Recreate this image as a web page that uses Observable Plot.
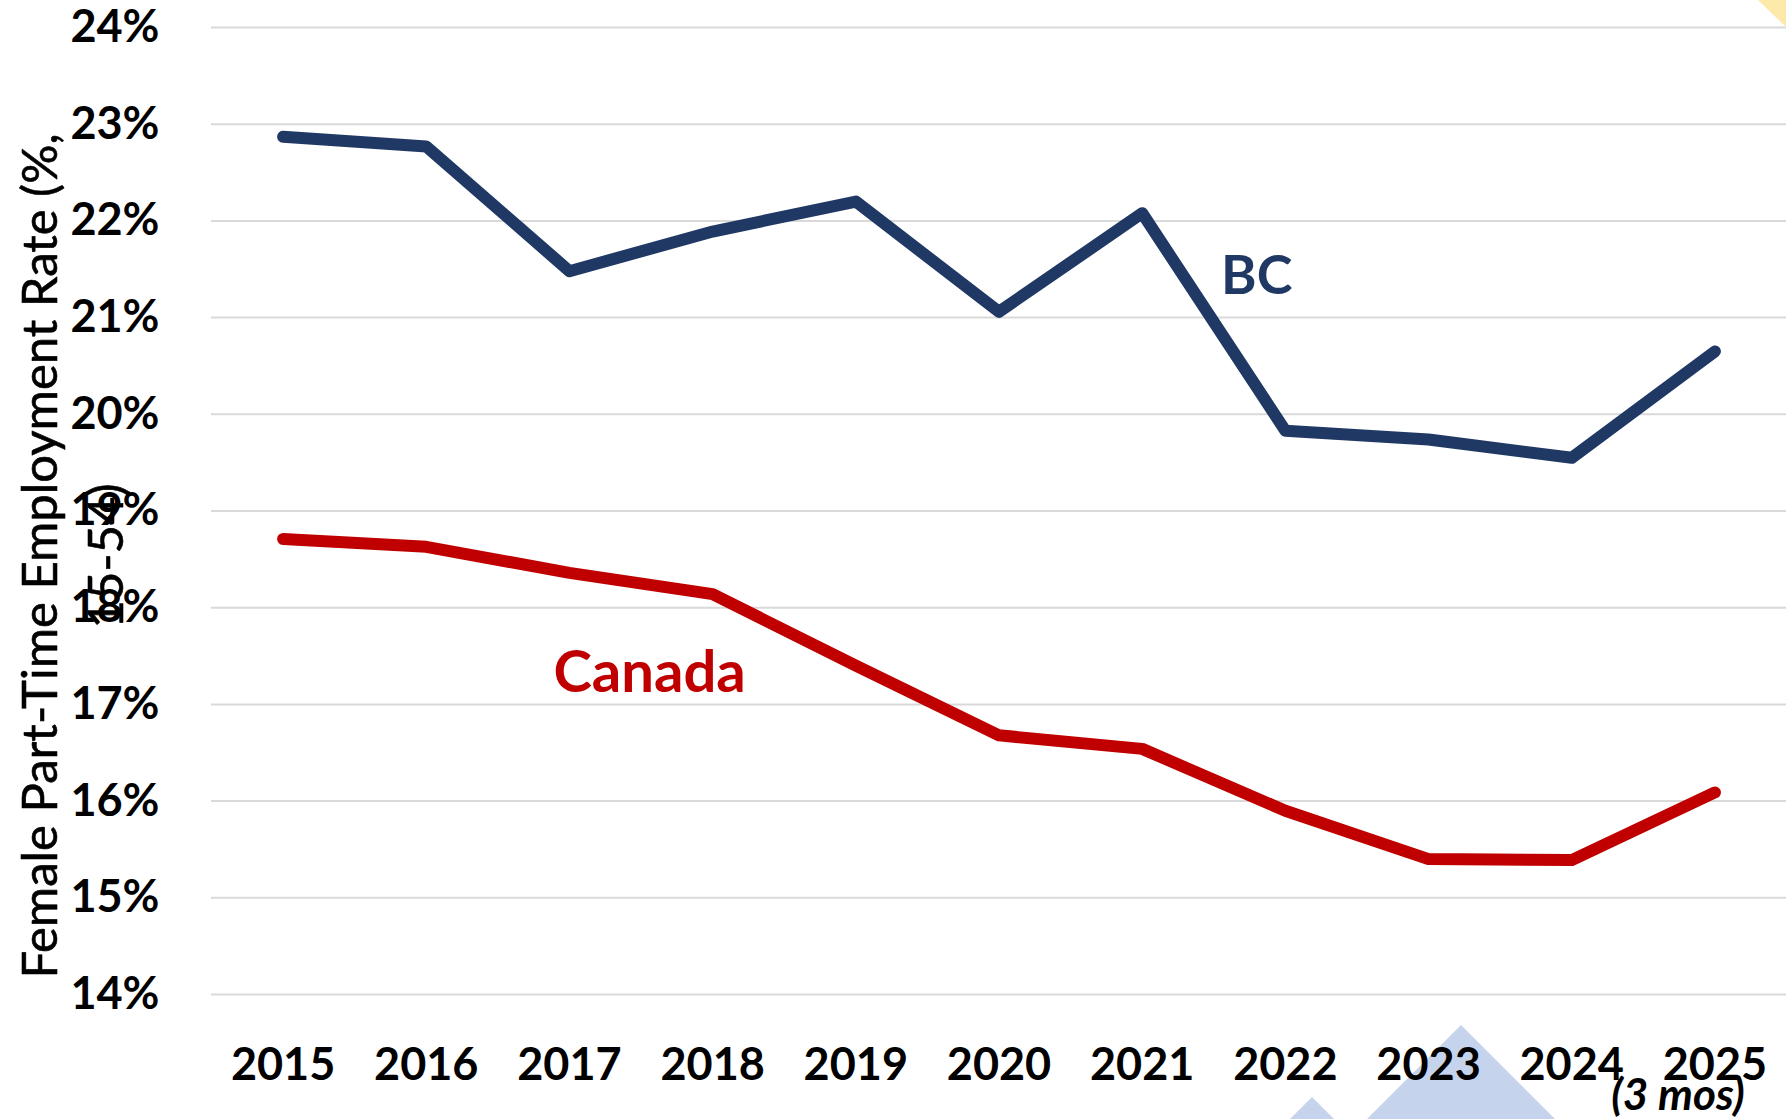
<!DOCTYPE html>
<html>
<head>
<meta charset="utf-8">
<script src="https://cdn.jsdelivr.net/npm/d3@7"></script>
<script src="https://cdn.jsdelivr.net/npm/@observablehq/plot@0.6"></script>
<style>
  html, body { margin: 0; padding: 0; background: #fff; }
  #wrap { position: relative; width: 1786px; height: 1119px; overflow: hidden; }
  .deco { position: absolute; left: 0; top: 0; }
  #chart { position: absolute; left: 0; top: 0; }
</style>
</head>
<body>
<div id="wrap">
  <svg class="deco" width="1786" height="1119">
    <polygon points="1758,0 1786,0 1786,27" fill="#fde9a9"/>
    <polygon points="1461,1025 1367,1119 1555,1119" fill="#c5d4ec"/>
    <polygon points="1312,1097 1290,1119 1334,1119" fill="#c5d4ec"/>
  </svg>
  <div id="chart"></div>
</div>
<script>
// ---- Data ----
const years = [2015, 2016, 2017, 2018, 2019, 2020, 2021, 2022, 2023, 2024, 2025];
const bcValues = [22.87, 22.77, 21.48, 21.89, 22.20, 21.06, 22.08, 19.83, 19.74, 19.55, 20.65];
const canadaValues = [18.71, 18.63, 18.36, 18.14, 17.40, 16.68, 16.54, 15.90, 15.40, 15.39, 16.09];
const seriesNames = ["BC", "Canada"];
const seriesColors = ["#203864", "#c00000"];
const yTicks = [14, 15, 16, 17, 18, 19, 20, 21, 22, 23, 24];
const yTitle = "Female Part-Time Employment Rate (%,\n15-54)";
const partialNote = "(3 mos)";

const rows = [
  ...years.map((year, i) => ({series: seriesNames[0], year, value: bcValues[i]})),
  ...years.map((year, i) => ({series: seriesNames[1], year, value: canadaValues[i]}))
];

const font = "Lato, 'Open Sans', sans-serif";

const chart = Plot.plot({
  width: 1786,
  height: 1119,
  marginLeft: 211,
  marginRight: 0,
  marginTop: 27,
  marginBottom: 125,
  style: {background: "transparent", fontFamily: font, overflow: "visible"},
  x: {type: "linear", domain: [years[0] - 0.5, years[years.length - 1] + 0.5]},
  y: {domain: [yTicks[0], yTicks[yTicks.length - 1]]},
  color: {domain: seriesNames, range: seriesColors},
  marks: [
    Plot.gridY(yTicks, {stroke: "#d9d9d9", strokeOpacity: 1, strokeWidth: 2}),
    Plot.axisY(yTicks, {
      tickSize: 0, tickPadding: 52, tickFormat: d => d + "%",
      fontSize: 45, fontWeight: "bold", fill: "#000", label: null
    }),
    Plot.axisX(years, {
      tickSize: 0, tickPadding: 54, tickFormat: d => String(d),
      fontSize: 45, fontWeight: "bold", fill: "#000", label: null
    }),
    Plot.line(rows, {
      x: "year", y: "value", z: "series", stroke: "series",
      strokeWidth: 12, strokeLinecap: "round", strokeLinejoin: "round"
    }),
    Plot.text([seriesNames[0]], {
      x: 2021.8, y: 21.42, text: d => d, fill: seriesColors[0],
      fontSize: 54, fontWeight: "bold"
    }),
    Plot.text([seriesNames[1]], {
      x: 2017.56, y: 17.32, text: d => d, fill: seriesColors[1],
      fontSize: 58, fontWeight: "bold"
    }),
    Plot.text([partialNote], {
      x: years[years.length - 1], y: yTicks[0], text: d => d,
      dx: -37, dy: 115, lineAnchor: "bottom",
      fontSize: 44, fontWeight: "bold", fontStyle: "italic", fill: "#000"
    }),
    Plot.text([yTitle], {
      frameAnchor: "left", text: d => d, rotate: -90,
      dx: -143, dy: 45, textAnchor: "middle", lineAnchor: "middle",
      lineHeight: 1.36, fontSize: 49, fill: "#000", stroke: "#000", strokeWidth: 0.6
    })
  ]
});
document.getElementById("chart").appendChild(chart);
</script>
</body>
</html>
